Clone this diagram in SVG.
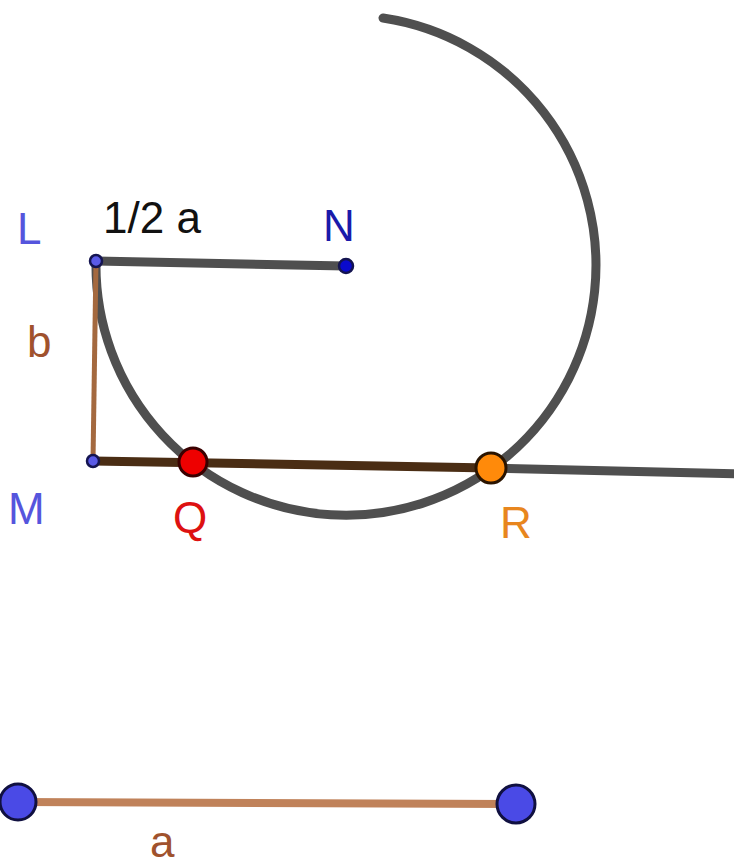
<svg xmlns="http://www.w3.org/2000/svg" width="734" height="865" viewBox="0 0 734 865">
<style>
text{font-family:"Liberation Sans",Arial,sans-serif;font-size:44px}
.gray{stroke:#4f4f4f;fill:none;stroke-linecap:round}
.pt{stroke:#141450;stroke-width:2.5}
</style>
<rect width="734" height="865" fill="#fff"/>
<g id="connectors">
<path id="arc" class="gray" stroke-width="9" d="M383,18 A250,250 0 1 1 96,261"/>
<line id="ray" class="gray" stroke-width="9" x1="491" y1="468" x2="740" y2="474"/>
<line id="LN" class="gray" stroke-width="9" x1="96" y1="261" x2="346" y2="266"/>
<line id="LM" x1="96" y1="261" x2="93" y2="461" stroke="#a4693f" stroke-width="5"/>
<line id="MR" x1="93" y1="461" x2="491" y2="468" stroke="#4a2d14" stroke-width="9"/>
<line id="seg_a" x1="18" y1="802" x2="516" y2="804" stroke="#c0825a" stroke-width="8"/>
</g>
<g id="L"><circle class="pt" cx="96" cy="261" r="6" fill="#5a5ae6"/><text x="17" y="244" fill="#5555dd">L</text></g>
<g id="N"><circle class="pt" cx="346" cy="266" r="7" fill="#0a0acc"/><text x="323" y="241" fill="#1a1aaa">N</text></g>
<g id="M"><circle class="pt" cx="93" cy="461" r="6" fill="#5a5ae6"/><text x="8" y="524" fill="#5555dd">M</text></g>
<g id="Q"><circle cx="193" cy="462" r="14" fill="#ee0000" stroke="#3a0000" stroke-width="3"/><text x="173" y="533" fill="#dd1111">Q</text></g>
<g id="R"><circle cx="491" cy="468" r="15" fill="#ff8a0a" stroke="#2a1400" stroke-width="3"/><text x="500" y="538" fill="#e8861e">R</text></g>
<g id="b_label"><text x="27" y="357" fill="#a0522d">b</text></g>
<g id="half_a"><text x="103" y="233" fill="#111">1/2 a</text></g>
<g id="A1"><circle cx="18" cy="802" r="18" fill="#4a4ae6" stroke="#101040" stroke-width="3"/></g>
<g id="A2"><circle cx="516" cy="804" r="19" fill="#4a4ae6" stroke="#101040" stroke-width="3"/></g>
<g id="a_label"><text x="150" y="857" fill="#a0522d">a</text></g>
</svg>
